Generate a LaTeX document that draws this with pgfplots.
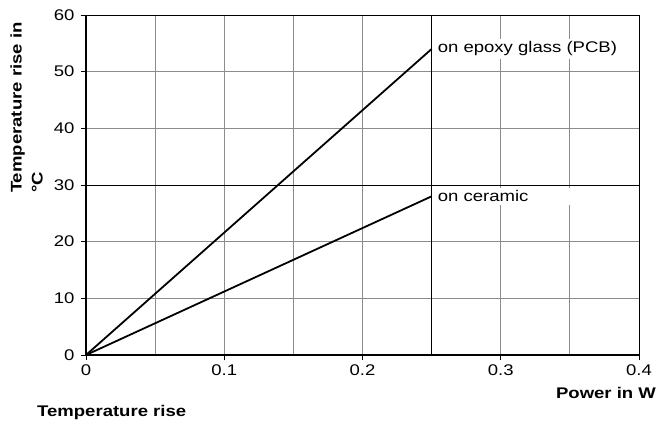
\documentclass[border=0pt]{standalone}
\usepackage{fontspec}
\setmainfont{Liberation Sans}[FakeStretch=1.2]
\usepackage{pgfplots}
\pgfplotsset{compat=1.18}
\begin{document}
\begin{tikzpicture}
\begin{axis}[
  name=ax,
  scale only axis,
  width=553bp, height=340bp,
  xmin=0, xmax=0.4, ymin=0, ymax=60,
  xtick={0,0.1,0.2,0.3,0.4},
  ytick={0,10,...,60},
  minor x tick num=1,
  axis lines=left,
  axis line style={line width=1.4pt,-},
  tick align=outside,
  major tick length=5bp,
  minor tick length=0pt,
  tick style={black, line width=0.9pt},
  grid=both,
  major grid style={gray!90, line width=1pt},
  minor grid style={gray!90, line width=1pt},
  extra x ticks={0.25,0.4},
  extra x tick labels={},
  extra y ticks={30,60},
  extra y tick labels={},
  extra tick style={grid=major, major grid style={black, line width=0.8pt}, major tick length=0pt},
  font=\fontsize{15.5}{21}\selectfont,
  yticklabel style={xshift=-3bp},
  xticklabel style={yshift=-1bp},
  /pgf/number format/assume math mode=true,
  ylabel={Temperature rise in\\°C},
  ylabel style={at={(axis description cs:-0.137,0.476)}, anchor=north west, align=left, font=\fontsize{15.5}{21}\selectfont\bfseries, inner sep=0pt},
  xlabel={Power in W},
  xlabel style={at={(axis description cs:1.031,-0.094)}, anchor=north east, font=\fontsize{15.5}{21}\selectfont\bfseries, inner sep=0pt},
]
\addplot[black, line width=1.8pt] coordinates {(0,0) (0.25,54)};
\addplot[black, line width=1.8pt] coordinates {(0,0) (0.25,28)};
\node[anchor=west, fill=white, inner sep=3bp, xshift=3bp, font=\fontsize{15.5}{21}\selectfont] at (axis cs:0.25,54) {on epoxy glass (PCB)};
\node[anchor=west, fill=white, inner sep=3bp, xshift=3bp, text width=160bp, align=left, font=\fontsize{15.5}{21}\selectfont] at (axis cs:0.25,28) {on ceramic};
\end{axis}
\node[anchor=north west, inner sep=0pt, font=\fontsize{15.5}{21}\selectfont\bfseries] at ([shift={(-49bp,-50bp)}]ax.south west) {Temperature rise};
\path ([shift={(-86bp,-67bp)}]ax.south west) rectangle ([shift={(20bp,15bp)}]ax.north east);
\end{tikzpicture}
\end{document}
